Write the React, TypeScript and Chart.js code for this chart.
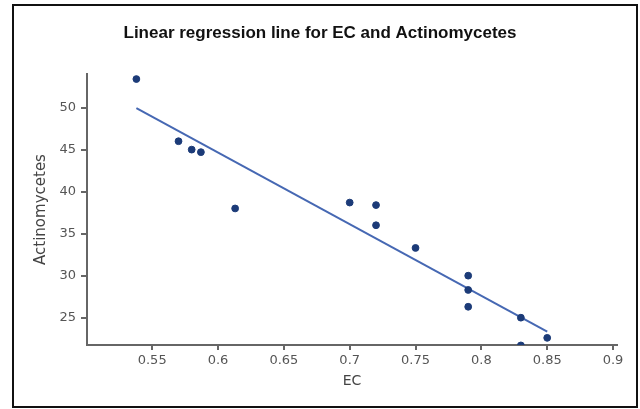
import React, { useEffect, useRef } from "react";
import { Chart, registerables } from "chart.js";

Chart.register(...registerables);

const titleText = "Linear regression line for EC and Actinomycetes";
const xAxisTitle = "EC";
const yAxisTitle = "Actinomycetes";

const ecValues = [0.538, 0.57, 0.58, 0.587, 0.613, 0.7, 0.72, 0.72, 0.75, 0.79, 0.79, 0.79, 0.83, 0.85, 0.83];
const actinoValues = [53.4, 46.0, 45.0, 44.7, 38.0, 38.7, 38.4, 36.0, 33.3, 30.0, 28.3, 26.3, 25.0, 22.6, 21.7];

const fitX = [0.538, 0.85];
const fitY = [49.95, 23.35];

const xMin = 0.5005;
const xMax = 0.903;
const yMin = 21.75;
const yMax = 54;

const fmt = (v: any) => String(Number(Number(v).toFixed(2)));

export default function App() {
  const ref = useRef<HTMLCanvasElement | null>(null);

  useEffect(() => {
    if (!ref.current) return;
    const points = ecValues.map((x, i) => ({ x, y: actinoValues[i] }));
    const fit = fitX.map((x, i) => ({ x, y: fitY[i] }));
    const tickFont = { family: "'DejaVu Sans', sans-serif", size: 13 };
    const chart = new Chart(ref.current, {
      type: "scatter",
      data: {
        datasets: [
          {
            data: points,
            backgroundColor: "#1c3b78",
            borderColor: "#1c3b78",
            borderWidth: 1,
            pointRadius: 3.4,
            order: 0,
          },
          {
            data: fit,
            showLine: true,
            borderColor: "#4668b3",
            borderWidth: 2,
            pointRadius: 0,
            order: 1,
          } as any,
        ],
      },
      options: {
        animation: false,
        responsive: false,
        layout: { padding: { left: 0, right: 0, top: 0, bottom: 0 } },
        plugins: {
          legend: { display: false },
          tooltip: { enabled: false },
          title: {
            display: true,
            text: titleText,
            color: "#111",
            font: { family: "'Liberation Sans', Arial, sans-serif", size: 17, weight: "bold" },
            padding: { top: 23.2, bottom: 30.4 },
          },
        },
        scales: {
          x: {
            type: "linear",
            min: xMin,
            max: xMax,
            afterFit: (s: any) => {
              s.height = 64;
            },
            ticks: {
              stepSize: 0.05,
              includeBounds: false,
              autoSkip: false,
              maxRotation: 0,
              color: "#555",
              font: tickFont,
              padding: 3,
              callback: (v: any) => fmt(v),
            },
            grid: { drawOnChartArea: false, drawTicks: true, tickLength: 5, color: "#666", lineWidth: 2 },
            border: { display: true, color: "#666", width: 2 },
            title: {
              display: true,
              text: xAxisTitle,
              color: "#444",
              font: { family: "'DejaVu Sans', sans-serif", size: 14 },
              padding: { top: 0, bottom: 19.6 },
            },
          },
          y: {
            type: "linear",
            min: yMin,
            max: yMax,
            afterFit: (s: any) => {
              s.width = 87;
            },
            ticks: {
              stepSize: 5,
              includeBounds: false,
              autoSkip: false,
              color: "#555",
              font: tickFont,
              padding: 5,
              callback: (v: any) => fmt(v),
            },
            grid: { drawOnChartArea: false, drawTicks: true, tickLength: 6, color: "#666", lineWidth: 2 },
            border: { display: true, color: "#666", width: 2 },
            title: {
              display: true,
              text: yAxisTitle,
              color: "#444",
              font: { family: "'DejaVu Sans', sans-serif", size: 15 },
              padding: { top: 32, bottom: 0 },
            },
          },
          yRightSpacer: {
            type: "linear",
            position: "right",
            display: true,
            min: 0,
            max: 1,
            afterFit: (s: any) => {
              s.width = 23;
            },
            ticks: { display: false },
            grid: { display: false },
            border: { display: false },
          },
        },
      },
    });
    return () => chart.destroy();
  }, []);

  return (
    <div>
      <canvas
        ref={ref}
        width={640}
        height={409}
        style={{ position: "absolute", left: 0, top: 0, width: 640, height: 409, background: "#fff" }}
      />
      <div
        style={{
          position: "absolute",
          left: 12,
          top: 4,
          width: 626,
          height: 404,
          boxSizing: "border-box",
          border: "2.5px solid #111",
          pointerEvents: "none",
        }}
      />
    </div>
  );
}
